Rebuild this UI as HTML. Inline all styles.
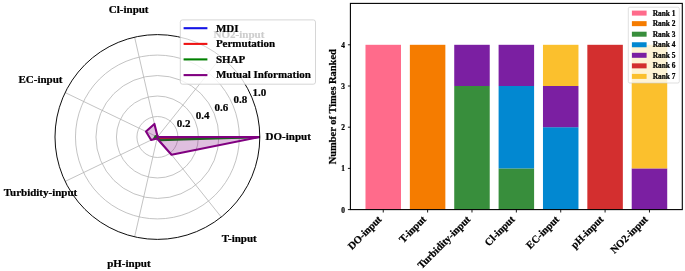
<!DOCTYPE html>
<html><head><meta charset="utf-8"><title>Feature importance</title>
<style>
html,body{margin:0;padding:0;background:#fff;}
body{width:685px;height:271px;overflow:hidden;}
svg{display:block;}
text{font-family:"Liberation Serif",serif;font-weight:bold;fill:#000;stroke:#000;stroke-width:0.22px;}
</style></head><body>
<svg width="685" height="271" viewBox="0 0 685 271">
<rect width="685" height="271" fill="#fff"/>
<g id="polar">
<defs><clipPath id="pc"><circle cx="157.4" cy="137.0" r="102.4"/></clipPath></defs>
<circle cx="157.4" cy="137.0" r="20.48" fill="none" stroke="#b4b4b4" stroke-width="0.8"/>
<circle cx="157.4" cy="137.0" r="40.96" fill="none" stroke="#b4b4b4" stroke-width="0.8"/>
<circle cx="157.4" cy="137.0" r="61.44" fill="none" stroke="#b4b4b4" stroke-width="0.8"/>
<circle cx="157.4" cy="137.0" r="81.92" fill="none" stroke="#b4b4b4" stroke-width="0.8"/>
<line x1="157.4" y1="137.0" x2="259.80" y2="137.00" stroke="#b4b4b4" stroke-width="0.8"/>
<line x1="157.4" y1="137.0" x2="221.25" y2="56.94" stroke="#b4b4b4" stroke-width="0.8"/>
<line x1="157.4" y1="137.0" x2="134.61" y2="37.17" stroke="#b4b4b4" stroke-width="0.8"/>
<line x1="157.4" y1="137.0" x2="65.14" y2="92.57" stroke="#b4b4b4" stroke-width="0.8"/>
<line x1="157.4" y1="137.0" x2="65.14" y2="181.43" stroke="#b4b4b4" stroke-width="0.8"/>
<line x1="157.4" y1="137.0" x2="134.61" y2="236.83" stroke="#b4b4b4" stroke-width="0.8"/>
<line x1="157.4" y1="137.0" x2="221.25" y2="217.06" stroke="#b4b4b4" stroke-width="0.8"/>
<g clip-path="url(#pc)">
<polygon points="259.80,137.00 157.66,136.68 157.13,135.80 156.48,136.56 156.02,137.67 157.22,137.80 158.68,138.60" fill="#1414e6" fill-opacity="0.25" stroke="none"/>
<polygon points="259.80,137.00 157.66,136.68 157.13,135.80 156.48,136.56 156.02,137.67 157.22,137.80 158.68,138.60" fill="none" stroke="#1414e6" stroke-width="2.1" stroke-linejoin="round"/>
<polygon points="259.80,137.00 157.59,136.76 157.22,136.20 156.66,136.64 155.55,137.89 157.26,137.60 158.17,137.96" fill="#ee1414" fill-opacity="0.25" stroke="none"/>
<polygon points="259.80,137.00 157.59,136.76 157.22,136.20 156.66,136.64 155.55,137.89 157.26,137.60 158.17,137.96" fill="none" stroke="#ee1414" stroke-width="2.1" stroke-linejoin="round"/>
<polygon points="259.80,137.00 157.66,136.68 157.06,135.50 155.55,136.11 154.17,138.56 157.13,138.20 159.95,140.20" fill="#008000" fill-opacity="0.25" stroke="none"/>
<polygon points="259.80,137.00 157.66,136.68 157.06,135.50 155.55,136.11 154.17,138.56 157.13,138.20 159.95,140.20" fill="none" stroke="#008000" stroke-width="2.1" stroke-linejoin="round"/>
<polygon points="259.80,137.00 157.66,136.68 154.42,123.92 145.96,131.49 151.13,140.02 157.06,138.50 171.51,154.69" fill="#800080" fill-opacity="0.25" stroke="none"/>
<polygon points="259.80,137.00 157.66,136.68 154.42,123.92 145.96,131.49 151.13,140.02 157.06,138.50 171.51,154.69" fill="none" stroke="#800080" stroke-width="2.1" stroke-linejoin="round"/>
</g>
<circle cx="157.4" cy="137.0" r="102.4" fill="none" stroke="#000" stroke-width="0.95"/>
<text x="176.8" y="126.7" font-size="11">0.2</text>
<text x="195.7" y="118.9" font-size="11">0.4</text>
<text x="214.6" y="111.1" font-size="11">0.6</text>
<text x="233.5" y="103.3" font-size="11">0.8</text>
<text x="252.4" y="95.5" font-size="11">1.0</text>
<text x="265.6" y="139.9" font-size="11">DO-input</text>
<text x="213.6" y="37.9" font-size="11">NO2-input</text>
<text x="108.8" y="12.6" font-size="11">Cl-input</text>
<text x="18.5" y="83.3" font-size="11">EC-input</text>
<text x="3.7" y="196.0" font-size="11">Turbidity-input</text>
<text x="107.2" y="266.6" font-size="11">pH-input</text>
<text x="221.7" y="241.9" font-size="11">T-input</text>
<rect x="180.3" y="19.9" width="135.2" height="64.3" rx="2.2" fill="#fff" fill-opacity="0.8" stroke="#ccc" stroke-opacity="0.8" stroke-width="1"/>
<line x1="183.6" y1="28.2" x2="207.4" y2="28.2" stroke="#1414e6" stroke-width="2.1"/>
<text x="215.9" y="31.55" font-size="11">MDI</text>
<line x1="183.6" y1="43.9" x2="207.4" y2="43.9" stroke="#ee1414" stroke-width="2.1"/>
<text x="215.9" y="47.25" font-size="11">Permutation</text>
<line x1="183.6" y1="59.4" x2="207.4" y2="59.4" stroke="#008000" stroke-width="2.1"/>
<text x="215.9" y="62.75" font-size="11">SHAP</text>
<line x1="183.6" y1="75.1" x2="207.4" y2="75.1" stroke="#800080" stroke-width="2.1"/>
<text x="215.9" y="78.45" font-size="11">Mutual Information</text>
</g>
<g id="bars">
<rect x="365.49" y="44.80" width="35.50" height="164.80" fill="#FF6B8B"/>
<line x1="383.24" y1="209.6" x2="383.24" y2="212.5" stroke="#000" stroke-width="0.9"/>
<text transform="translate(379.74,217.40) rotate(-45)" text-anchor="end" font-size="10.45" dy="0.35em">DO-input</text>
<rect x="409.86" y="44.80" width="35.50" height="164.80" fill="#F57C00"/>
<line x1="427.61" y1="209.6" x2="427.61" y2="212.5" stroke="#000" stroke-width="0.9"/>
<text transform="translate(424.11,217.40) rotate(-45)" text-anchor="end" font-size="10.45" dy="0.35em">T-input</text>
<rect x="454.23" y="86.00" width="35.50" height="123.60" fill="#388E3C"/>
<rect x="454.23" y="44.80" width="35.50" height="41.20" fill="#7B1FA2"/>
<line x1="471.98" y1="209.6" x2="471.98" y2="212.5" stroke="#000" stroke-width="0.9"/>
<text transform="translate(468.48,217.40) rotate(-45)" text-anchor="end" font-size="10.45" dy="0.35em">Turbidity-input</text>
<rect x="498.60" y="168.40" width="35.50" height="41.20" fill="#388E3C"/>
<rect x="498.60" y="86.00" width="35.50" height="82.40" fill="#0288D1"/>
<rect x="498.60" y="44.80" width="35.50" height="41.20" fill="#7B1FA2"/>
<line x1="516.35" y1="209.6" x2="516.35" y2="212.5" stroke="#000" stroke-width="0.9"/>
<text transform="translate(512.85,217.40) rotate(-45)" text-anchor="end" font-size="10.45" dy="0.35em">Cl-input</text>
<rect x="542.97" y="127.20" width="35.50" height="82.40" fill="#0288D1"/>
<rect x="542.97" y="86.00" width="35.50" height="41.20" fill="#7B1FA2"/>
<rect x="542.97" y="44.80" width="35.50" height="41.20" fill="#FBC02D"/>
<line x1="560.72" y1="209.6" x2="560.72" y2="212.5" stroke="#000" stroke-width="0.9"/>
<text transform="translate(557.22,217.40) rotate(-45)" text-anchor="end" font-size="10.45" dy="0.35em">EC-input</text>
<rect x="587.34" y="44.80" width="35.50" height="164.80" fill="#D32F2F"/>
<line x1="605.09" y1="209.6" x2="605.09" y2="212.5" stroke="#000" stroke-width="0.9"/>
<text transform="translate(601.59,217.40) rotate(-45)" text-anchor="end" font-size="10.45" dy="0.35em">pH-input</text>
<rect x="631.72" y="168.40" width="35.50" height="41.20" fill="#7B1FA2"/>
<rect x="631.72" y="44.80" width="35.50" height="123.60" fill="#FBC02D"/>
<line x1="649.46" y1="209.6" x2="649.46" y2="212.5" stroke="#000" stroke-width="0.9"/>
<text transform="translate(645.96,217.40) rotate(-45)" text-anchor="end" font-size="10.45" dy="0.35em">NO2-input</text>
<rect x="350.4" y="3.4" width="331.9" height="206.2" fill="none" stroke="#000" stroke-width="1.1"/>
<line x1="347.9" y1="209.60" x2="350.4" y2="209.60" stroke="#000" stroke-width="0.9"/>
<text x="344.9" y="212.60" text-anchor="end" font-size="7.4">0</text>
<line x1="347.9" y1="168.40" x2="350.4" y2="168.40" stroke="#000" stroke-width="0.9"/>
<text x="344.9" y="171.40" text-anchor="end" font-size="7.4">1</text>
<line x1="347.9" y1="127.20" x2="350.4" y2="127.20" stroke="#000" stroke-width="0.9"/>
<text x="344.9" y="130.20" text-anchor="end" font-size="7.4">2</text>
<line x1="347.9" y1="86.00" x2="350.4" y2="86.00" stroke="#000" stroke-width="0.9"/>
<text x="344.9" y="89.00" text-anchor="end" font-size="7.4">3</text>
<line x1="347.9" y1="44.80" x2="350.4" y2="44.80" stroke="#000" stroke-width="0.9"/>
<text x="344.9" y="47.80" text-anchor="end" font-size="7.4">4</text>
<text transform="translate(336.1,106.7) rotate(-90)" text-anchor="middle" font-size="10.45">Number of Times Ranked</text>
<rect x="628.3" y="7.2" width="51.0" height="75.8" rx="1.5" fill="#fff" fill-opacity="0.8" stroke="#ccc" stroke-opacity="0.8" stroke-width="0.8"/>
<rect x="631.9" y="10.60" width="14.7" height="5" fill="#FF6B8B"/>
<text x="652.7" y="15.55" font-size="7.4">Rank 1</text>
<rect x="631.9" y="21.15" width="14.7" height="5" fill="#F57C00"/>
<text x="652.7" y="26.10" font-size="7.4">Rank 2</text>
<rect x="631.9" y="31.70" width="14.7" height="5" fill="#388E3C"/>
<text x="652.7" y="36.65" font-size="7.4">Rank 3</text>
<rect x="631.9" y="42.25" width="14.7" height="5" fill="#0288D1"/>
<text x="652.7" y="47.20" font-size="7.4">Rank 4</text>
<rect x="631.9" y="52.80" width="14.7" height="5" fill="#7B1FA2"/>
<text x="652.7" y="57.75" font-size="7.4">Rank 5</text>
<rect x="631.9" y="63.35" width="14.7" height="5" fill="#D32F2F"/>
<text x="652.7" y="68.30" font-size="7.4">Rank 6</text>
<rect x="631.9" y="73.90" width="14.7" height="5" fill="#FBC02D"/>
<text x="652.7" y="78.85" font-size="7.4">Rank 7</text>
</g>
</svg>
</body></html>
